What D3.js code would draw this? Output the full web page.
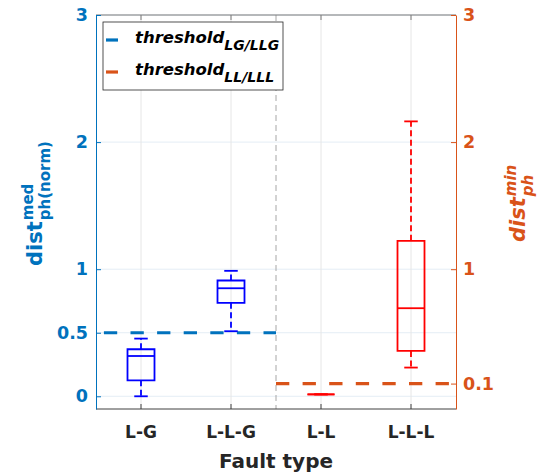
<!DOCTYPE html>
<html>
<head>
<meta charset="utf-8">
<script src="https://cdn.jsdelivr.net/npm/d3@7"></script>
<style>
  html, body { margin: 0; padding: 0; background: #fff; }
  svg text { font-family: "DejaVu Sans", sans-serif; font-weight: bold; }
</style>
</head>
<body>
<div id="chart"></div>
<script>
// ---------------------------------------------------------
//  Fault type boxplots with two threshold lines (yyaxis)
// ---------------------------------------------------------
const CATEGORIES = ['L-G', 'L-L-G', 'L-L', 'L-L-L'];
const WHISK_LO = [0.0, 0.512, 0.015, 0.226];
const Q1       = [0.126, 0.735, 0.015, 0.357];
const MEDIAN   = [0.317, 0.850, 0.015, 0.693];
const Q3       = [0.370, 0.911, 0.015, 1.223];
const WHISK_HI = [0.454, 0.987, 0.015, 2.163];

const LEFT_TICKS = [0, 0.5, 1, 2, 3];
const RIGHT_TICKS = [0.1, 1, 2, 3];
const THRESH_LG = 0.5;   // left axis, L-G / L-L-G side
const THRESH_LL = 0.1;   // right axis, L-L / L-L-L side
const DIVIDER = 2.5;

const W = 542, H = 476;
const m = { t: 15, r: 86, b: 67, l: 96 };
const BLUE = '#0072BD', ORANGE = '#D95319';

const svg = d3.select('#chart').append('svg')
  .attr('width', W).attr('height', H);

const x = d3.scaleLinear().domain([0.5, 4.5]).range([m.l, W - m.r]);
const y = d3.scaleLinear().domain([-0.1, 3]).range([H - m.b, m.t]);
const yR = y.copy();   // right axis happens to share the same range

// grid
svg.append('g').selectAll('line')
  .data(LEFT_TICKS).join('line')
  .attr('x1', m.l).attr('x2', W - m.r)
  .attr('y1', d => y(d)).attr('y2', d => y(d))
  .attr('stroke', '#e4edf5');
svg.append('g').selectAll('line')
  .data(d3.range(1, 5)).join('line')
  .attr('x1', d => x(d)).attr('x2', d => x(d))
  .attr('y1', m.t).attr('y2', H - m.b)
  .attr('stroke', '#e6e6e6');

// divider between the two groups
svg.append('line')
  .attr('x1', x(DIVIDER)).attr('x2', x(DIVIDER))
  .attr('y1', m.t).attr('y2', H - m.b)
  .attr('stroke', '#a6a6a6').attr('stroke-width', 1)
  .attr('stroke-dasharray', '6 4');

// thresholds
svg.append('line')
  .attr('x1', m.l).attr('x2', x(DIVIDER))
  .attr('y1', y(THRESH_LG)).attr('y2', y(THRESH_LG))
  .attr('stroke', BLUE).attr('stroke-width', 3.2)
  .attr('stroke-dasharray', '13.3 13.3').attr('stroke-dashoffset', 18.7);
svg.append('line')
  .attr('x1', x(DIVIDER)).attr('x2', W - m.r)
  .attr('y1', yR(THRESH_LL)).attr('y2', yR(THRESH_LL))
  .attr('stroke', ORANGE).attr('stroke-width', 3.2)
  .attr('stroke-dasharray', '13.3 13.3');

// boxes
const boxW = 0.3, capW = 0.15;
CATEGORIES.forEach((c, i) => {
  const col = i < 2 ? '#0000FF' : '#FF0000';
  const sc = i < 2 ? y : yR;
  const g = svg.append('g')
    .attr('fill', 'none').attr('stroke', col).attr('stroke-width', 1.8);
  const cx = x(i + 1);
  const bx0 = x(i + 1 - boxW / 2), bx1 = x(i + 1 + boxW / 2);
  const cx0 = x(i + 1 - capW / 2), cx1 = x(i + 1 + capW / 2);

  // whiskers
  g.append('line').attr('x1', cx).attr('x2', cx)
    .attr('y1', sc(Q3[i])).attr('y2', sc(WHISK_HI[i]))
    .attr('stroke-dasharray', '6 3.5');
  g.append('line').attr('x1', cx).attr('x2', cx)
    .attr('y1', sc(Q1[i])).attr('y2', sc(WHISK_LO[i]))
    .attr('stroke-dasharray', '6 3.5');
  g.append('line').attr('x1', cx0).attr('x2', cx1)
    .attr('y1', sc(WHISK_HI[i])).attr('y2', sc(WHISK_HI[i]));
  g.append('line').attr('x1', cx0).attr('x2', cx1)
    .attr('y1', sc(WHISK_LO[i])).attr('y2', sc(WHISK_LO[i]));

  // box + median
  g.append('path')
    .attr('d', `M${bx0},${sc(Q1[i])}H${bx1}V${sc(Q3[i])}H${bx0}Z`);
  g.append('line').attr('x1', bx0).attr('x2', bx1)
    .attr('y1', sc(MEDIAN[i])).attr('y2', sc(MEDIAN[i]));
});

// axes frame
svg.append('line').attr('x1', m.l).attr('x2', W - m.r)
  .attr('y1', m.t).attr('y2', m.t).attr('stroke', '#7a7a7a');
svg.append('line').attr('x1', m.l).attr('x2', W - m.r)
  .attr('y1', H - m.b).attr('y2', H - m.b).attr('stroke', '#404040');

// left axis
svg.append('g').attr('transform', `translate(${m.l},0)`)
  .call(d3.axisLeft(y).tickValues(LEFT_TICKS).tickSizeInner(-5).tickSizeOuter(0)
    .tickPadding(8).tickFormat(d3.format('')))
  .call(g => g.select('.domain').attr('stroke', BLUE).attr('stroke-width', 1))
  .call(g => g.selectAll('.tick line').attr('stroke', BLUE))
  .call(g => g.selectAll('.tick text').attr('fill', BLUE)
    .attr('font-size', 17.5).attr('font-family', '"DejaVu Sans", sans-serif'));

// right axis
svg.append('g').attr('transform', `translate(${W - m.r},0)`)
  .call(d3.axisRight(yR).tickValues(RIGHT_TICKS).tickSizeInner(-5).tickSizeOuter(0)
    .tickPadding(7).tickFormat(d3.format('')))
  .call(g => g.select('.domain').attr('stroke', ORANGE).attr('stroke-width', 1))
  .call(g => g.selectAll('.tick line').attr('stroke', ORANGE))
  .call(g => g.selectAll('.tick text').attr('fill', ORANGE)
    .attr('font-size', 17.5).attr('font-family', '"DejaVu Sans", sans-serif'));

// top / bottom ticks
[m.t, H - m.b].forEach((yy, k) => {
  svg.append('g').selectAll('line')
    .data(d3.range(1, 5)).join('line')
    .attr('x1', d => x(d)).attr('x2', d => x(d))
    .attr('y1', yy).attr('y2', k === 0 ? yy + 5 : yy - 5)
    .attr('stroke', k === 0 ? '#7a7a7a' : '#404040');
});

// category labels
svg.append('g').selectAll('text')
  .data(CATEGORIES).join('text')
  .attr('x', (d, i) => x(i + 1)).attr('y', H - m.b + 29)
  .attr('text-anchor', 'middle')
  .attr('font-size', 17).attr('fill', '#262626')
  .text(d => d);
svg.append('text')
  .attr('x', x(DIVIDER)).attr('y', H - 8)
  .attr('text-anchor', 'middle')
  .attr('font-size', 20).attr('fill', '#262626')
  .text('Fault type');

// y labels (base + super + sub)
function yLabel(tx, ty, color, italic, sup, sub) {
  const g = svg.append('g')
    .attr('transform', `translate(${tx},${ty}) rotate(-90)`)
    .attr('fill', color)
    .attr('font-style', italic ? 'italic' : 'normal');
  const base = g.append('text').attr('font-size', 21).text('dist');
  const w = base.node().getComputedTextLength();
  g.append('text').attr('x', w + 1).attr('y', -9).attr('font-size', 15).text(sup);
  g.append('text').attr('x', w + 1).attr('y', 8).attr('font-size', 15).text(sub);
}
yLabel(42, 266, BLUE, false, 'med', 'ph(norm)');
yLabel(525, 242, ORANGE, true, 'min', 'ph');

// legend
const lg = svg.append('g').attr('transform', 'translate(103,22)');
lg.append('rect').attr('width', 180).attr('height', 68)
  .attr('fill', 'white').attr('stroke', '#262626').attr('stroke-width', 0.8);
[
  { c: BLUE, sub: 'LG/LLG' },
  { c: ORANGE, sub: 'LL/LLL' }
].forEach((e, k) => {
  const yy = 18 + k * 32;
  lg.append('line').attr('x1', 3).attr('x2', 15)
    .attr('y1', yy).attr('y2', yy)
    .attr('stroke', e.c).attr('stroke-width', 3.2);
  const t = lg.append('text').attr('x', 32).attr('y', yy + 3)
    .attr('font-size', 16.5).attr('font-style', 'italic').attr('fill', '#000')
    .text('threshold');
  const w = t.node().getComputedTextLength();
  lg.append('text').attr('x', 32 + w).attr('y', yy + 10)
    .attr('font-size', 14).attr('font-style', 'italic').attr('fill', '#000')
    .text(e.sub);
});
</script>
</body>
</html>
